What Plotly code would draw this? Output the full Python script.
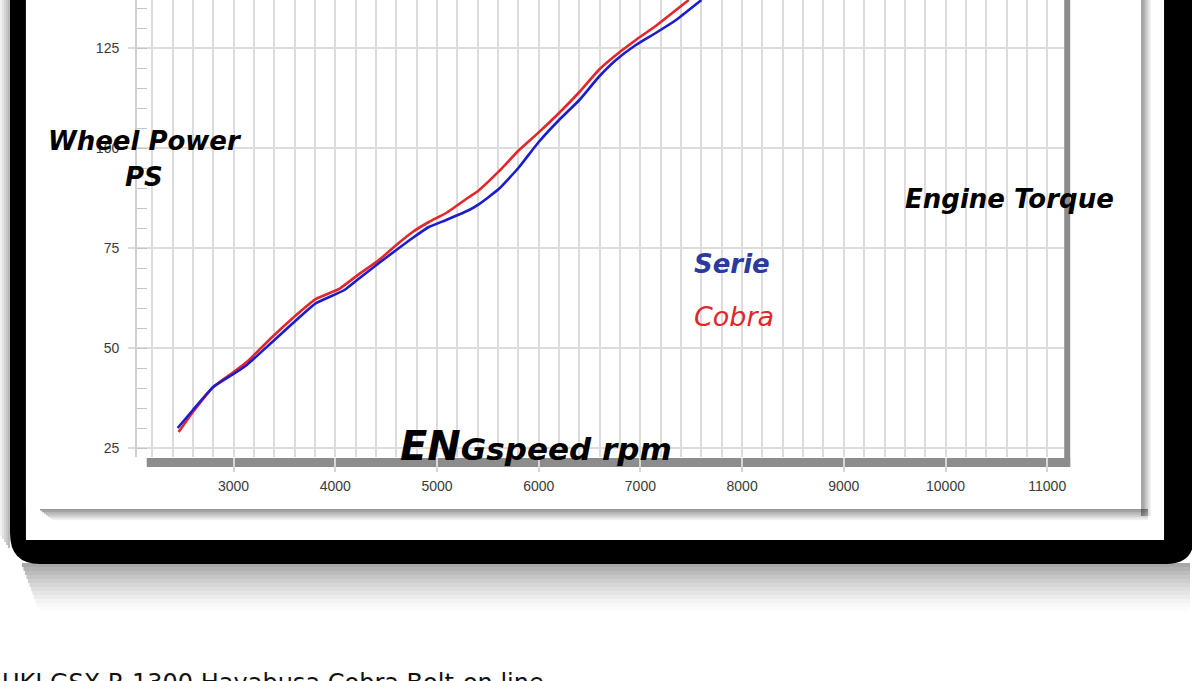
import plotly.graph_objects as go

# ---------------- data ----------------
serie_rpm = [2450, 2600, 2800, 3000, 3130, 3380, 3650, 3810, 4090, 4240, 4430, 4600,
             4760, 4920, 5090, 5316, 5410, 5610, 5800, 6000, 6200, 6400, 6590, 6760,
             6955, 7150, 7350, 7600]
serie_ps = [30, 34.5, 40.25, 43.5, 45.75, 51.5, 57.75, 61.2, 64.5, 67.5, 71.25, 74.5,
            77.5, 80.25, 82, 84.5, 85.9, 89.8, 95, 101.5, 107, 112, 117.75, 122,
            125.75, 128.75, 132, 137]

cobra_rpm = [2460, 2600, 2800, 3000, 3130, 3380, 3650, 3810, 4040, 4240, 4430, 4600,
             4760, 4920, 5090, 5316, 5410, 5610, 5800, 6000, 6200, 6400, 6590, 6760,
             6955, 7150, 7475]
cobra_ps = [29, 34, 40.25, 44, 46.5, 52.75, 59, 62.3, 64.8, 68.6, 72, 75.75,
            79, 81.5, 83.75, 87.75, 89.4, 94.2, 99.3, 103.9, 108.75, 114, 119.5, 123.25,
            127, 130.5, 137]

x_ticks = [3000, 4000, 5000, 6000, 7000, 8000, 9000, 10000, 11000]
y_ticks = [25, 50, 75, 100, 125]

W, H = 1192, 681


def P(px):
    return px / W


def Q(py):
    return 1 - py / H


shapes = []


def rect(x0, y0, x1, y1, color, layer="below"):
    shapes.append(dict(type="rect", xref="paper", yref="paper",
                       x0=P(x0), x1=P(x1), y0=Q(y1), y1=Q(y0),
                       fillcolor=color, line=dict(width=0), layer=layer))


# soft shadow to the left of the frame
for k in range(5):
    a = 0.28 * (k + 1) / 5
    rect(k * 2, -5, k * 2 + 2, 548 - (4 - k) * 3, f"rgba(0,0,0,{a:.3f})")

# shadow below the black frame
for k in range(12):
    a = 0.34 * (1 - k / 12) ** 1.4
    x0 = 22 + k * 1.5
    rect(x0, 563 + k * 4, 1192, 567 + k * 4, f"rgba(0,0,0,{a:.3f})")

# black frame with rounded bottom corners
path = (f"M {P(10)},{Q(-5)} L {P(10)},{Q(533)} "
        f"Q {P(10)},{Q(564)} {P(40)},{Q(564)} "
        f"L {P(1168)},{Q(564)} Q {P(1196)},{Q(564)} {P(1196)},{Q(537)} "
        f"L {P(1196)},{Q(-5)} Z")
shapes.append(dict(type="path", xref="paper", yref="paper", path=path,
                   fillcolor="#000000", line=dict(width=0), layer="below"))

# white interior
rect(26, -5, 1166, 540, "#ffffff")

# card drop shadow (bottom and right)
for k in range(7):
    a = 0.42 * (1 - k / 7)
    rect(40 + k * 2, 509 + k * 1.6, 1150, 510.6 + k * 1.6, f"rgba(0,0,0,{a:.3f})")
    rect(1143 + k * 1.4, -5, 1144.4 + k * 1.4, 516, f"rgba(0,0,0,{a:.3f})")
rect(26, -5, 1143, 509, "#ffffff")

# gray axis bars
rect(147, 458, 1072, 467, "#8c8c8c")
rect(1066, -5, 1072, 467, "#8c8c8c")

fig = go.Figure()
fig.add_trace(go.Scatter(x=cobra_rpm, y=cobra_ps, mode="lines", name="Cobra",
                         line=dict(color="#e3262b", width=2.6, shape="spline", smoothing=0.4)))
fig.add_trace(go.Scatter(x=serie_rpm, y=serie_ps, mode="lines", name="Serie",
                         line=dict(color="#1c1ccf", width=2.6, shape="spline", smoothing=0.4)))

tickfont = dict(family="Liberation Sans, Arial", size=14, color="#3a3a3a")
grid = "#dcdcdc"

fig.update_layout(
    width=W, height=H, autosize=False,
    margin=dict(l=0, r=0, t=0, b=0),
    paper_bgcolor="#ffffff", plot_bgcolor="rgba(0,0,0,0)",
    showlegend=False,
    shapes=shapes,
    xaxis=dict(domain=[P(137), P(1066)], range=[2048, 11167],
               tickvals=x_ticks, ticktext=[str(v) for v in x_ticks],
               showgrid=True, gridcolor=grid, gridwidth=1.5,
               ticks="outside", ticklen=14, tickcolor="#d6d6d6", tickwidth=1.5,
               ticklabelstandoff=2,
               minor=dict(dtick=200, tick0=0, showgrid=True, gridcolor=grid, gridwidth=1.5),
               showline=False, zeroline=False, tickfont=tickfont, fixedrange=True),
    yaxis=dict(domain=[Q(457), 1], range=[22.75, 137],
               tickvals=y_ticks, ticktext=[str(v) for v in y_ticks],
               showgrid=True, gridcolor=grid, gridwidth=1.5,
               ticks="outside", ticklen=7, tickcolor=grid, tickwidth=1.5,
               ticklabelstandoff=6,
               minor=dict(dtick=5, tick0=0, ticks="inside", ticklen=10,
                          tickcolor="#c4c4c4", tickwidth=1.2, showgrid=False),
               showline=True, linecolor="#d0d0d0", linewidth=1.5,
               zeroline=False, tickfont=tickfont, fixedrange=True),
)

lab = "DejaVu Sans"


def ann(text, px, py, size, color="#000000", bold=True, xanchor="center"):
    fig.add_annotation(xref="paper", yref="paper", x=P(px), y=Q(py), text=text,
                       showarrow=False, xanchor=xanchor, yanchor="middle",
                       font=dict(family=lab, size=size, color=color,
                                 weight="bold" if bold else "normal", style="italic"))


ann("Wheel Power", 145, 141, 26)
ann("PS", 144, 177, 26)
ann("Engine Torque", 1011, 199, 26)
ann("Serie", 693, 264, 26, color="#2b3a9e", xanchor="left")
ann("Cobra", 693, 316, 27, color="#e3262b", bold=False, xanchor="left")
ann('<span style="font-size:40px">EN</span>Gspeed rpm', 537, 446, 31)

fig.add_annotation(xref="paper", yref="paper", x=0, y=Q(667),
                   text="UKI GSX-R 1300 Hayabusa Cobra Bolt-on line",
                   showarrow=False, xanchor="left", yanchor="top",
                   font=dict(family="DejaVu Sans", size=24, color="#111111"))

fig.write_html("out.html", config={"displayModeBar": False},
               post_script="document.body.style.margin='0px';document.body.style.overflow='hidden';")
